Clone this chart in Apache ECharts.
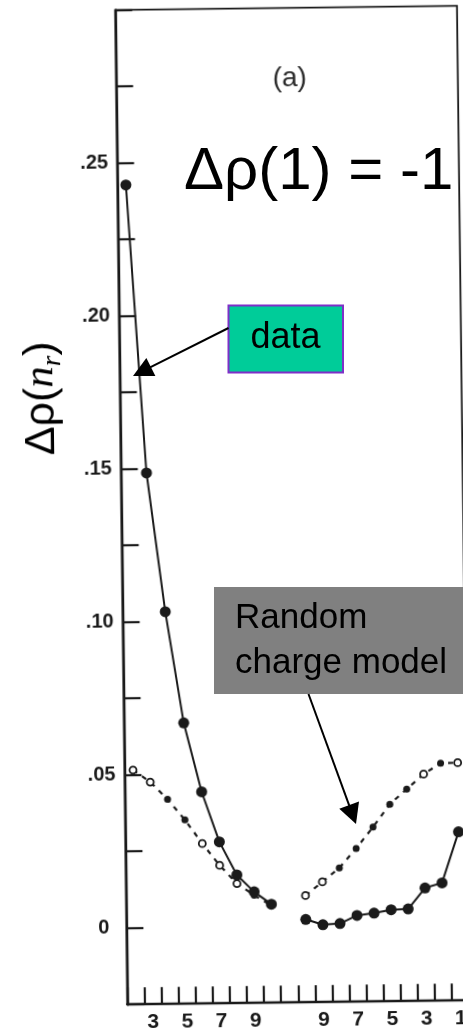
<!DOCTYPE html>
<html>
<head>
<meta charset="utf-8">
<script src="https://cdn.jsdelivr.net/npm/echarts/dist/echarts.min.js"></script>
<style>
  html, body { margin: 0; padding: 0; background: #fff; overflow: hidden; width: 463px; height: 1034px; }
  /* the scanned panel sits slightly tilted on the page */
  #plot { position: absolute; left: 0; top: 0; width: 480px; height: 1034px;
          transform-origin: 231.5px 517px; transform: rotate(-0.7deg); }
  #notes { position: absolute; left: 0; top: 0; width: 463px; height: 1034px; pointer-events: none; }
</style>
</head>
<body>
<div id="plot"></div>
<div id="notes"></div>
<script>
// n_r slots: left half runs outward, right half runs back down to 1
const nrLabels = ['', '3', '', '5', '', '7', '', '9', '', '', '', '9', '', '7', '', '5', '', '3', '', '1'];
const slots = nrLabels.map((_, i) => String(i));

// measured Δρ(n_r)
const measured = [0.2428, 0.1486, 0.1032, 0.0668, 0.0442, 0.0278, 0.0169, 0.0113, 0.0072, null,
                  0.0021, 0.0003, 0.0006, 0.0032, 0.0039, 0.0049, 0.0051, 0.0119, 0.0135, 0.0301];
// random charge model
const randomModel = [0.0516, 0.0476, 0.0419, 0.0351, 0.0273, 0.0201, 0.0141, 0.0102, 0.0068, null,
                     0.0099, 0.0143, 0.0188, 0.0251, 0.0320, 0.0394, 0.0443, 0.0491, 0.0526, 0.0527];
// model points drawn with hollow markers
const hollowPoints = [0, 1, 4, 5, 6, 10, 11, 17, 19];

const yTicks = [0, 0.05, 0.10, 0.15, 0.20, 0.25];
const yTickLabels = ['0', '.05', '.10', '.15', '.20', '.25'];

const INK = '#1a1a1a';
const SANS = '"Liberation Sans", Arial, sans-serif';
const SERIF = '"Liberation Serif", "Times New Roman", serif';

// tick label styles
const xTickText = { fontFamily: 'Liberation Sans', fontWeight: 'bold', fontSize: 21, color: INK };
const yTickText = { fontFamily: 'Liberation Sans', fontWeight: 'bold', fontSize: 20, color: INK };

const plot = echarts.init(document.getElementById('plot'), null, { renderer: 'canvas' });
plot.setOption({
  animation: false,
  backgroundColor: '#fff',
  grid: { left: 121.4, top: 8.7, width: 341.8, height: 994.5, show: true,
          borderColor: INK, borderWidth: 1.8, containLabel: false },
  xAxis: {
    type: 'category', data: slots, boundaryGap: true,
    axisLine: { onZero: false, lineStyle: { color: INK, width: 2.4 } },
    axisTick: { show: true, inside: true, length: 17, interval: 0, lineStyle: { color: INK, width: 2.2 } },
    axisLabel: Object.assign({
      interval: 0, margin: 8,
      formatter: (v, i) => nrLabels[i] ? '{t|' + nrLabels[i] + '}' : '',
      rich: { t: xTickText }
    }, xTickText),
    splitLine: { show: false }
  },
  yAxis: {
    type: 'value', min: -0.025, max: 0.3, interval: 0.025,
    axisLine: { show: true, lineStyle: { color: INK, width: 2.4 } },
    axisTick: { show: true, inside: true, length: 17, lineStyle: { color: INK, width: 2.2 } },
    axisLabel: Object.assign({
      margin: 9,
      formatter: v => {
        const i = yTicks.findIndex(t => Math.abs(t - v) < 1e-6);
        if (i < 0) return '';
        return i === 0 ? '{zero|' + yTickLabels[0] + '}' : '{t|' + yTickLabels[i] + '}';
      },
      rich: { t: yTickText, zero: Object.assign({ padding: [0, 8, 0, 0] }, yTickText) }
    }, yTickText),
    splitLine: { show: false }
  },
  graphic: [
    {
      type: 'text', x: 43, y: 396, rotation: Math.PI / 2,
      style: {
        text: '{a|Δρ(}{n|n}{r|r}{a|)}',
        textAlign: 'center', textVerticalAlign: 'middle',
        rich: {
          a: { fontFamily: SANS, fontSize: 43, color: INK, lineHeight: 50 },
          n: { fontFamily: SERIF, fontStyle: 'italic', fontSize: 43, color: INK, lineHeight: 50 },
          r: { fontFamily: SERIF, fontStyle: 'italic', fontSize: 27, color: INK, lineHeight: 20, verticalAlign: 'bottom' }
        }
      }
    },
    {
      type: 'text', x: 295, y: 79,
      style: { text: '(a)', font: '28px ' + SANS, fill: '#2a2a2a', textAlign: 'center', textVerticalAlign: 'middle' }
    }
  ],
  series: [
    {
      name: 'Random charge model', type: 'line', z: 2,
      data: randomModel.map((v, i) => v === null ? null : {
        value: v,
        itemStyle: hollowPoints.includes(i)
          ? { color: '#fff', borderColor: INK, borderWidth: 1.8 }
          : { color: INK, borderColor: INK, borderWidth: 0 }
      }),
      connectNulls: false, symbol: 'circle', symbolSize: 7, showSymbol: true, showAllSymbol: true,
      lineStyle: { color: INK, width: 2.2, type: [5, 6] }
    },
    {
      name: 'data', type: 'line', z: 3,
      data: measured, connectNulls: false,
      symbol: 'circle', symbolSize: 11, showSymbol: true, showAllSymbol: true,
      itemStyle: { color: INK },
      lineStyle: { color: INK, width: 2 }
    }
  ]
});

// annotation layer
function arrow(x1, y1, x2, y2, head, half) {
  const dx = x2 - x1, dy = y2 - y1, L = Math.hypot(dx, dy);
  const ux = dx / L, uy = dy / L;
  const bx = x2 - ux * head, by = y2 - uy * head;
  return [
    { type: 'line', shape: { x1: x1, y1: y1, x2: bx + ux * 2, y2: by + uy * 2 }, style: { stroke: '#000', lineWidth: 2 } },
    { type: 'polygon', shape: { points: [[x2, y2], [bx - uy * half, by + ux * half], [bx + uy * half, by - ux * half]] },
      style: { fill: '#000' } }
  ];
}

const notes = echarts.init(document.getElementById('notes'), null, { renderer: 'canvas' });
notes.setOption({
  animation: false,
  graphic: [
    { type: 'text', x: 184, y: 172,
      style: { text: 'Δρ(1) = -1', font: '60px ' + SANS, fill: '#000', textVerticalAlign: 'middle' } },
    { type: 'rect', shape: { x: 228.5, y: 305.5, width: 114.5, height: 67 },
      style: { fill: '#00CC99', stroke: '#7F2FC8', lineWidth: 2 } },
    { type: 'text', x: 285.5, y: 338,
      style: { text: 'data', font: '36px ' + SANS, fill: '#000', textAlign: 'center', textVerticalAlign: 'middle' } },
    ...arrow(228.5, 328, 133, 376, 20, 10),
    { type: 'rect', shape: { x: 214, y: 587, width: 260, height: 107 }, style: { fill: '#808080' } },
    { type: 'text', x: 235, y: 618,
      style: { text: 'Random', font: '35px ' + SANS, fill: '#000', textVerticalAlign: 'middle' } },
    { type: 'text', x: 235, y: 663,
      style: { text: 'charge model', font: '35px ' + SANS, fill: '#000', textVerticalAlign: 'middle' } },
    ...arrow(308.5, 694, 356, 824, 20, 10.5)
  ]
});
</script>
</body>
</html>
